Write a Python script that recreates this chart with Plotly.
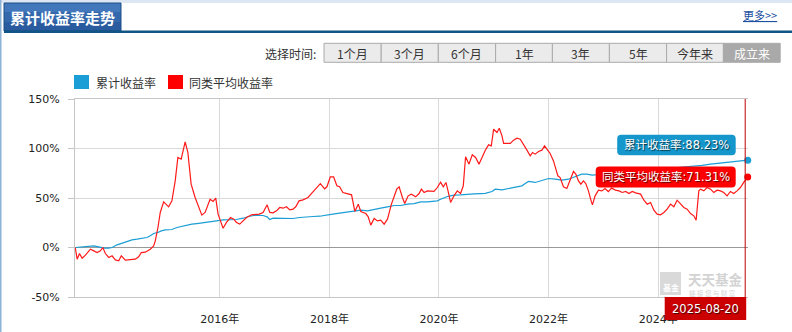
import plotly.graph_objects as go
from datetime import datetime

# ---------------- data ----------------
# time stamps as decimal years, values in %
peer_t = [2013.36, 2013.396, 2013.438, 2013.487, 2013.547, 2013.638, 2013.700, 2013.760, 2013.820, 2013.864,
          2013.911, 2013.973, 2014.033, 2014.093, 2014.155, 2014.202, 2014.275, 2014.366, 2014.457, 2014.519,
          2014.567, 2014.640, 2014.731, 2014.793, 2014.822, 2014.871, 2014.913, 2014.975, 2015.066, 2015.126,
          2015.186, 2015.235, 2015.295, 2015.368, 2015.417, 2015.477, 2015.550, 2015.672, 2015.732, 2015.823,
          2015.878, 2015.927, 2015.969, 2016.013, 2016.060, 2016.122, 2016.195, 2016.255, 2016.304, 2016.364,
          2016.425, 2016.487, 2016.578, 2016.637, 2016.716, 2016.789, 2016.825, 2016.862, 2016.911, 2016.971,
          2017.033, 2017.093, 2017.153, 2017.215, 2017.275, 2017.335, 2017.385, 2017.445, 2017.518, 2017.609,
          2017.670, 2017.748, 2017.834, 2017.912, 2017.954, 2018.016, 2018.076, 2018.136, 2018.185, 2018.246,
          2018.307, 2018.404, 2018.464, 2018.526, 2018.573, 2018.664, 2018.708, 2018.755, 2018.817, 2018.877,
          2018.937, 2018.999, 2019.060, 2019.132, 2019.229, 2019.273, 2019.333, 2019.375, 2019.437, 2019.497,
          2019.575, 2019.637, 2019.679, 2019.728, 2019.788, 2019.848, 2019.910, 2019.970, 2020.030, 2020.079,
          2020.128, 2020.165, 2020.212, 2020.274, 2020.334, 2020.394, 2020.443, 2020.485, 2020.547, 2020.607,
          2020.667, 2020.729, 2020.789, 2020.844, 2020.904, 2020.953, 2020.996, 2021.057, 2021.099, 2021.148,
          2021.178, 2021.239, 2021.300, 2021.360, 2021.421, 2021.482, 2021.542, 2021.604, 2021.664, 2021.706,
          2021.755, 2021.816, 2021.878, 2021.925, 2021.969, 2022.028, 2022.089, 2022.133, 2022.169, 2022.210,
          2022.271, 2022.333, 2022.392, 2022.454, 2022.497, 2022.545, 2022.589, 2022.636, 2022.679, 2022.727,
          2022.776, 2022.800, 2022.849, 2022.910, 2022.972, 2023.030, 2023.090, 2023.150, 2023.220, 2023.285,
          2023.345, 2023.407, 2023.467, 2023.527, 2023.589, 2023.680, 2023.740, 2023.800, 2023.862, 2023.922,
          2023.982, 2024.044, 2024.104, 2024.164, 2024.226, 2024.286, 2024.346, 2024.408, 2024.468, 2024.528,
          2024.590, 2024.650, 2024.692, 2024.741, 2024.772, 2024.832, 2024.892, 2024.954, 2025.014, 2025.074,
          2025.136, 2025.196, 2025.256, 2025.318, 2025.378, 2025.438, 2025.500, 2025.560]
peer_v = [0, -11.8, -6.1, -10.8, -7.7, -1.7, -3.4, -5.1, -3.4, 0,
          -6.1, -10.1, -8.4, -12.5, -13.5, -8.4, -12.8, -12.5, -11.8, -9.4,
          -5.1, -4.7, -1.7, 1.7, 6.7, 20.2, 35.4, 46.1, 41.1, 47.1,
          67.3, 90.9, 89.2, 106.7, 96.0, 64.0, 50.5, 32.7, 35.4, 48.8,
          46.5, 49.8, 33.7, 26.9, 19.5, 25.3, 30.3, 28.6, 25.3, 23.6,
          26.9, 30.3, 33.0, 33.0, 33.7, 35.4, 38.7, 43.1, 35.4, 35.0,
          37.0, 40.4, 39.7, 41.1, 38.0, 38.7, 41.1, 47.1, 48.1, 50.5,
          54.5, 58.9, 64.6, 59.3, 61.3, 71.4, 71.4, 62.3, 61.3, 55.6,
          54.5, 53.2, 36.4, 43.8, 36.4, 34.3, 31.0, 22.6, 29.3, 26.9,
          27.6, 23.6, 28.6, 43.8, 58.9, 61.3, 50.5, 44.4, 52.2, 53.9,
          51.2, 54.5, 58.9, 55.6, 57.2, 57.2, 56.6, 60.6, 66.0, 61.3,
          65.7, 57.2, 45.5, 52.2, 57.2, 54.5, 62.3, 91.6, 84.2, 93.6,
          90.9, 84.2, 92.6, 98.3, 103.7, 102.7, 119.5, 116.2, 120.5, 112.8,
          105.1, 105.1, 105.1, 108.4, 110.4, 109.4, 104.4, 98.3, 92.6, 96.0,
          94.3, 97.0, 98.3, 102.7, 99.3, 95.0, 87.5, 79.1, 72.4, 70.7,
          61.3, 59.6, 69.0, 76.8, 74.1, 67.3, 64.0, 67.3, 64.6, 57.2,
          47.1, 43.1, 52.2, 57.9, 57.2, 59.5, 56.5, 60.0, 58.0, 57.2,
          55.6, 56.6, 54.5, 56.6, 55.2, 53.9, 47.8, 43.8, 45.5, 37.7,
          33.7, 33.0, 35.4, 38.7, 43.8, 41.1, 47.8, 43.8, 40.4, 38.7,
          34.3, 32.0, 27.6, 57.2, 58.9, 57.2, 60.6, 58.9, 55.6, 57.9,
          57.2, 55.6, 52.2, 56.6, 54.5, 57.2, 60.6, 65.7]

cum_t = [2013.36, 2013.487, 2013.609, 2013.700, 2013.791, 2013.882, 2013.973, 2014.033, 2014.124, 2014.215,
         2014.306, 2014.397, 2014.488, 2014.579, 2014.670, 2014.731, 2014.793, 2014.871, 2014.931, 2015.004,
         2015.126, 2015.217, 2015.308, 2015.399, 2015.490, 2015.581, 2015.703, 2015.854, 2015.940, 2016.060,
         2016.182, 2016.304, 2016.425, 2016.546, 2016.668, 2016.789, 2016.862, 2016.911, 2016.971, 2017.093,
         2017.215, 2017.335, 2017.457, 2017.579, 2017.700, 2017.821, 2017.943, 2018.063, 2018.185, 2018.307,
         2018.453, 2018.573, 2018.695, 2018.817, 2018.937, 2019.060, 2019.182, 2019.302, 2019.424, 2019.546,
         2019.666, 2019.788, 2019.910, 2019.970, 2020.030, 2020.091, 2020.152, 2020.212, 2020.274, 2020.394,
         2020.516, 2020.638, 2020.759, 2020.844, 2020.966, 2021.026, 2021.148, 2021.268, 2021.391, 2021.451,
         2021.513, 2021.573, 2021.633, 2021.755, 2021.878, 2021.998, 2022.119, 2022.241, 2022.362, 2022.483,
         2022.605, 2022.696, 2022.798, 2023.000, 2023.300, 2023.600, 2023.900, 2024.200, 2024.500, 2024.800,
         2024.954, 2025.140, 2025.320, 2025.500]
cum_v = [0, 0.7, 1.0, 1.7, 0.7, -0.7, -0.7, 0, 2.7, 4.4,
         6.4, 7.7, 8.4, 9.4, 10.1, 11.8, 14.1, 15.2, 16.8, 17.8,
         18.2, 20.2, 21.5, 22.6, 23.6, 24.2, 24.9, 25.9, 26.9, 27.9,
         28.3, 28.3, 29.6, 31.6, 32.7, 32.3, 31.0, 28.3, 29.6, 29.6,
         29.3, 29.3, 30.3, 31.0, 31.3, 31.6, 33.0, 33.7, 34.7, 35.7,
         36.4, 37.7, 37.0, 38.7, 39.7, 41.1, 42.4, 42.4, 43.8, 44.4,
         46.1, 46.1, 46.5, 47.1, 48.8, 50.5, 51.5, 52.2, 52.9, 53.2,
         53.9, 54.2, 54.5, 54.7, 56.6, 58.9, 58.2, 59.3, 60.6, 61.3,
         62.3, 64.6, 66.7, 65.7, 68.0, 69.7, 69.0, 68.0, 69.0, 71.4,
         74.1, 74.1, 73.1, 74.0, 75.5, 77.0, 78.0, 79.5, 81.0, 83.0,
         84.3, 85.5, 86.5, 87.5]

end_date = "2025-08-20"
cum_end = 88.23
peer_end = 71.31

series_names = ["累计收益率", "同类平均收益率"]
y_tick_vals = [-50, 0, 50, 100, 150]
y_tick_text = ["-50%", "0%", "50%", "100%", "150%"]
x_tick_years = [2016, 2018, 2020, 2022, 2024]
buttons = ["1个月", "3个月", "6个月", "1年", "3年", "5年", "今年来", "成立来"]
active_button = "成立来"
title_text = "累计收益率走势"
more_text = "更多>>"
select_text = "选择时间:"

# ---------------- styles ----------------
BLUE = "#1a9ed5"
BLUE_BOX = "#1597cc"
RED = "#ff1a1a"
RED_BOX = "#ff0000"
DATE_BOX = "#cc0000"
CJK = "Noto Sans CJK SC"
NUM = "DejaVu Sans, Noto Sans CJK SC"

W, H = 792, 332
L, R, T, B = 75, 748, 99, 297


def dec2date(t):
    y = int(t)
    a = datetime(y, 1, 1)
    b = datetime(y + 1, 1, 1)
    return a + (b - a) * (t - y)


end_dt = datetime.strptime(end_date, "%Y-%m-%d")
peer_x = [dec2date(t) for t in peer_t] + [end_dt]
peer_y = peer_v + [peer_end]
cum_x = [dec2date(t) for t in cum_t] + [end_dt]
cum_y = cum_v + [cum_end]


def fx(px):
    return (px - L) / (R - L)


def fy(py):
    return (B - py) / (B - T)


def rrect(x0, x1, y0, y1, r):
    return (f"M{x0 + r},{y0} L{x1 - r},{y0} Q{x1},{y0} {x1},{y0 + r} "
            f"L{x1},{y1 - r} Q{x1},{y1} {x1 - r},{y1} L{x0 + r},{y1} "
            f"Q{x0},{y1} {x0},{y1 - r} L{x0},{y0 + r} Q{x0},{y0} {x0 + r},{y0} Z")


fig = go.Figure()
fig.add_trace(go.Scatter(x=cum_x, y=cum_y, mode="lines", name=series_names[0],
                         line=dict(color=BLUE, width=1.2), hoverinfo="skip"))
fig.add_trace(go.Scatter(x=peer_x, y=peer_y, mode="lines", name=series_names[1],
                         line=dict(color=RED, width=1.2), hoverinfo="skip"))
fig.add_trace(go.Scatter(x=[end_dt], y=[cum_end], mode="markers", cliponaxis=False,
                         marker=dict(color=BLUE, size=7), hoverinfo="skip"))
fig.add_trace(go.Scatter(x=[end_dt], y=[peer_end], mode="markers", cliponaxis=False,
                         marker=dict(color=RED_BOX, size=7), hoverinfo="skip"))

shapes = []
ann = []


def prect(x0, y0, x1, y1, fill, line=None, lw=0, layer="above"):
    shapes.append(dict(type="rect", xref="paper", yref="paper",
                       x0=fx(x0), x1=fx(x1), y0=fy(y0), y1=fy(y1),
                       fillcolor=fill, line=dict(color=line or fill, width=lw), layer=layer))


def ptext(x, y, text, size=12, color="#333", family=CJK, xanchor="center", **kw):
    ann.append(dict(xref="paper", yref="paper", x=fx(x), y=fy(y), text=text, showarrow=False,
                    xanchor=xanchor, yanchor="middle", font=dict(size=size, color=color, family=family), **kw))


# page frame / header
prect(0, 0, W, 3, "#dce7f3")
prect(0, 0, 1.5, H, "#8cb3d5")
prect(4, 3, 121, 12, "#4277bb")
prect(4, 12, 121, 22, "#3468ad")
prect(4, 22, 121, 31, "#2a5b9f")
shapes.append(dict(type="rect", xref="paper", yref="paper", x0=fx(4), x1=fx(121), y0=fy(31), y1=fy(3),
                   line=dict(color="#1d4f86", width=1), fillcolor="rgba(0,0,0,0)"))
prect(4, 30.5, W, 33, "#0f5585")
ptext(62.5, 17.5, f"<b>{title_text}</b>", size=15, color="white", family=CJK)
ptext(759.5, 15, f"<u>{more_text}</u>", size=11, color="#1c4fa0")

# period selector
ptext(318, 53, select_text, size=12, xanchor="right")
edges = [324.0, 381.2, 438.3, 495.6, 552.4, 609.4, 666.6, 723.4, 780.2]
for i, lab in enumerate(buttons):
    active = lab == active_button
    prect(edges[i], 43.3, edges[i + 1], 62.3, "#a9a9a9" if active else "#ebebeb", "#aaaaaa", 1)
    ptext((edges[i] + edges[i + 1]) / 2, 53, lab, size=12,
          color="white" if active else "#333")

# legend
prect(74, 75, 89, 89, BLUE)
ptext(94, 82, series_names[0], size=12, xanchor="left")
prect(168, 75, 183, 89, RED_BOX)
ptext(187, 82, series_names[1], size=12, xanchor="left")

# watermark
shapes.append(dict(type="path", xref="paper", yref="paper", layer="below",
                   path="M{0},{1} L{2},{1} L{2},{3} L{0},{3} Z".format(fx(660), fy(272), fx(681), fy(295)),
                   fillcolor="#d9d9d9", line=dict(width=0)))
ptext(670.5, 287, "<b>基金</b>", size=8, color="white")
ptext(686, 278.5, "<b>天天基金</b>", size=13.5, color="#d3d3d3", xanchor="left")
ptext(687, 292.5, "链 接 您 与 财 富", size=6.5, color="#d3d3d3", xanchor="left")

# crosshair at last date
shapes.append(dict(type="line", xref="x", xsizemode="pixel", xanchor=end_date, x0=-2.5, x1=-2.5,
                   yref="paper", y0=0, y1=1, line=dict(color="#c00000", width=1), layer="above"))

# tooltip boxes
shapes.append(dict(type="path", xref="x", xsizemode="pixel", xanchor=end_date,
                   yref="y", ysizemode="pixel", yanchor=cum_end,
                   path=rrect(-130.5, -12, 5, 25.3, 4), fillcolor=BLUE_BOX, line=dict(width=0), layer="above"))
shapes.append(dict(type="path", xref="x", xsizemode="pixel", xanchor=end_date,
                   yref="y", ysizemode="pixel", yanchor=peer_end,
                   path=rrect(-152, -12, -10.6, 10.4, 4), fillcolor=RED_BOX, line=dict(width=0), layer="above"))
shadow = "1px 1px 1px rgba(0,0,0,0.7)"
ann.append(dict(xref="x", yref="y", x=end_date, y=cum_end, xshift=-71, yshift=15.2,
                text=f"{series_names[0]}:{cum_end:.2f}%", showarrow=False, xanchor="center", yanchor="middle",
                font=dict(size=11.5, color="white", family=NUM, shadow=shadow)))
ann.append(dict(xref="x", yref="y", x=end_date, y=peer_end, xshift=-82, yshift=0,
                text=f"{series_names[1]}:{peer_end:.2f}%", showarrow=False, xanchor="center", yanchor="middle",
                font=dict(size=11.5, color="white", family=NUM, shadow=shadow)))

# date box
shapes.append(dict(type="rect", xref="x", xsizemode="pixel", xanchor=end_date, x0=-83, x1=-1.5,
                   yref="paper", ysizemode="pixel", yanchor=0, y0=0, y1=-23,
                   fillcolor=DATE_BOX, line=dict(width=0), layer="above"))
ann.append(dict(xref="x", yref="paper", x=end_date, y=0, xshift=-42, yshift=-11.5,
                text=end_date, showarrow=False, xanchor="center", yanchor="middle",
                font=dict(size=11.5, color="white", family=NUM, shadow=shadow)))

fig.update_layout(
    width=W, height=H,
    margin=dict(l=L, r=W - R, t=T, b=H - B, pad=0, autoexpand=False),
    paper_bgcolor="white", plot_bgcolor="white",
    showlegend=False,
    shapes=shapes, annotations=ann,
    hovermode=False,
    xaxis=dict(type="date", range=[datetime(2013, 5, 11), datetime(2025, 8, 22)],
               tickvals=[datetime(y, 1, 1) for y in x_tick_years],
               ticktext=[f"{y}年" for y in x_tick_years],
               showgrid=True, gridcolor="#d9d9d9", gridwidth=1,
               showline=True, linecolor="#c6c6c6", linewidth=1, mirror=True,
               ticks="", ticklabelstandoff=12, automargin=False,
               tickfont=dict(family=NUM, size=11, color="#222"), zeroline=False, fixedrange=True),
    yaxis=dict(range=[-50, 150], tickvals=y_tick_vals, ticktext=y_tick_text,
               showgrid=True, gridcolor="#d9d9d9", gridwidth=1,
               zeroline=True, zerolinecolor="#999999", zerolinewidth=1,
               showline=True, linecolor="#c6c6c6", linewidth=1,
               ticks="outside", ticklen=6, tickcolor="#c6c6c6", ticklabelstandoff=6, automargin=False,
               tickfont=dict(family=NUM, size=11, color="#222"), fixedrange=True),
)

fig.write_html("out.html", config={"displayModeBar": False})
